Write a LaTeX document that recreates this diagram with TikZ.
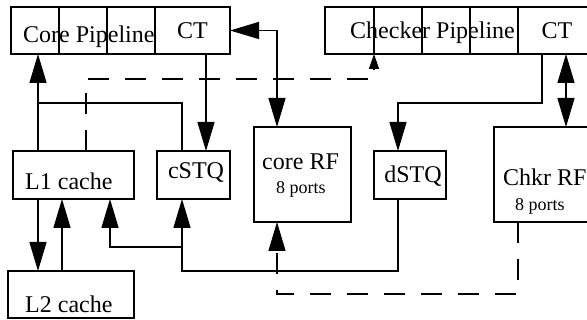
\documentclass[tikz,border=0pt]{standalone}
\usepackage{fontspec}
\setmainfont{Liberation Serif}
\usetikzlibrary{arrows.meta}

\tikzset{
  box/.style={draw, line width=1.4pt, inner sep=0pt, outer sep=0pt, anchor=north west},
  wire/.style={line width=1.4pt},
  arr/.style={wire, -{Triangle[length=29pt,width=17pt]}},
  biarr/.style={wire, {Triangle[length=29pt,width=17pt]}-{Triangle[length=29pt,width=17pt]}},
  dashwire/.style={wire, dash pattern=on 21pt off 16pt},
  smallarr/.style={-{Triangle[length=15pt,width=10pt]}},
  bigtxt/.style={inner sep=0pt, font=\fontsize{24}{28}\selectfont},
  smalltxt/.style={inner sep=0pt, font=\fontsize{18}{21}\selectfont}
}

\begin{document}
\begin{tikzpicture}[x=1pt,y=-1pt]
\useasboundingbox (0,0) rectangle (587,320);
\clip (0,0) rectangle (587,320);

% core pipeline stages
\node[box, minimum width=48pt, minimum height=47pt] (cp1) at (11,7) {};
\node[box, minimum width=48pt, minimum height=47pt] (cp2) at (59,7) {};
\node[box, minimum width=48pt, minimum height=47pt] (cp3) at (107,7) {};
\node[box, minimum width=75pt, minimum height=47pt] (cpct) at (155,7) {};
\node[bigtxt, anchor=base west] (cptxt) at (23,42.5) {Core Pipeline};
\node[bigtxt, anchor=base] (cpcttxt) at (192.5,39) {CT};

% checker pipeline stages
\node[box, minimum width=49pt, minimum height=47pt] (ck1) at (325,7) {};
\node[box, minimum width=48pt, minimum height=47pt] (ck2) at (374,7) {};
\node[box, minimum width=48pt, minimum height=47pt] (ck3) at (422,7) {};
\node[box, minimum width=48pt, minimum height=47pt] (ck4) at (470,7) {};
\node[box, minimum width=78pt, minimum height=47pt] (ckct) at (518,7) {};
\node[bigtxt, anchor=base west] (cktxt) at (350,39) {Checker Pipeline};
\node[bigtxt, anchor=base] (ckcttxt) at (557,39) {CT};

% caches, store queues and register files
\node[box, minimum width=121pt, minimum height=48pt] (l1) at (13,151) {};
\node[bigtxt, anchor=base west] (l1txt) at (25,190) {L1 cache};
\node[box, minimum width=126pt, minimum height=47pt] (l2) at (8,271) {};
\node[bigtxt, anchor=base west] (l2txt) at (25,313) {L2 cache};
\node[box, minimum width=73pt, minimum height=48pt] (cstq) at (157,151) {};
\node[bigtxt, anchor=base] (cstqtxt) at (196,179) {cSTQ};
\node[box, minimum width=97pt, minimum height=95pt] (corerf) at (254,127) {};
\node[bigtxt, anchor=base west] (corerftxt) at (262,170) {core RF};
\node[smalltxt, anchor=base west] (corerfports) at (276,194) {8 ports};
\node[box, minimum width=72pt, minimum height=48pt] (dstq) at (374,151) {};
\node[bigtxt, anchor=base] (dstqtxt) at (413,183) {dSTQ};
\node[box, minimum width=96pt, minimum height=95pt] (chkrf) at (494,127) {};
\node[bigtxt, anchor=base west] (chkrftxt) at (503,186) {Chkr RF};
\node[smalltxt, anchor=base west] (chkrfports) at (515,211) {8 ports};

% junction points on shared wires
\coordinate (merge) at (38,103);
\coordinate (split) at (182,247);

% core side connections
\draw[arr] (38,0 |- l1.north) -- (38,0 |- cp1.south);
\draw[wire] (182,0 |- cstq.north) |- (merge);
\draw[arr] (206,0 |- cpct.south) -- (206,0 |- cstq.north);
\draw[biarr] (277,0 |- corerf.north) |- (cpct.east);
\draw[arr] (38,0 |- l1.south) -- (38,0 |- l2.north);
\draw[arr] (62,0 |- l2.north) -- (62,0 |- l1.south);

% store queue forwarding
\draw[arr] (398,0 |- dstq.south) |- (182,271) -- (182,0 |- cstq.south);
\draw[arr] (split) -| (110,0 |- l1.south);

% checker side connections
\draw[arr] (542,0 |- ckct.south) -- (542,103) -| (398,0 |- dstq.north);
\draw[biarr] (566,0 |- ckct.south) -- (566,0 |- chkrf.north);

% dashed checking paths
\draw[dashwire, smallarr] (86,0 |- l1.north) |- (ck1.south east |- 0,79) -- (ck1.south east);
\draw[dashwire, -{Triangle[length=29pt,width=17pt]}] (518,0 |- chkrf.south) |- (277,294) -- (277,0 |- corerf.south);
\end{tikzpicture}
\end{document}
